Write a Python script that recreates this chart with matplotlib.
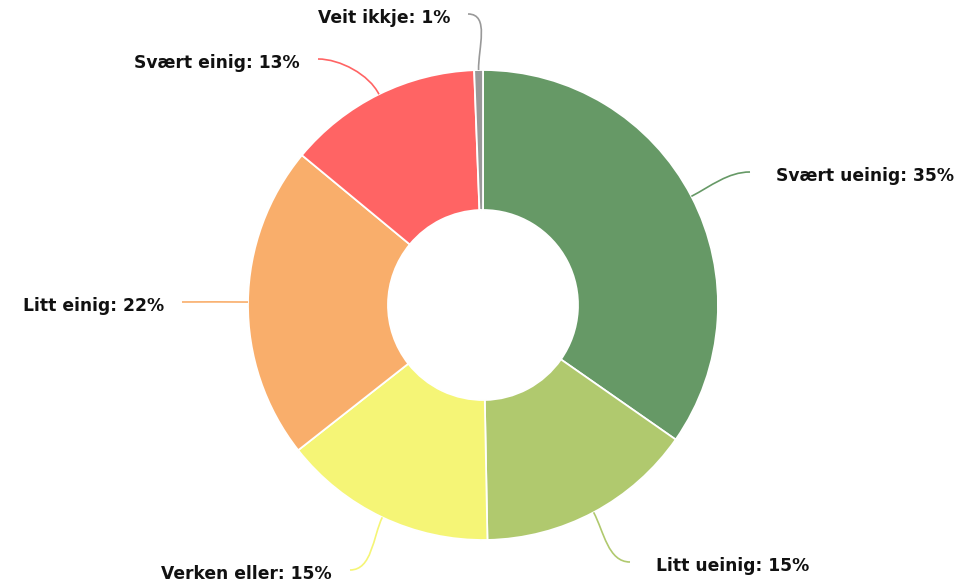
import matplotlib
matplotlib.use("Agg")
import matplotlib.pyplot as plt
import numpy as np
from matplotlib.path import Path
from matplotlib.patches import PathPatch

categories = ["Svært ueinig", "Litt ueinig", "Verken eller", "Litt einig", "Svært einig", "Veit ikkje"]
values = [34.7, 15.0, 14.7, 21.6, 13.4, 0.6]
colors = ["#669966", "#b0c96e", "#f5f576", "#f9ae6b", "#ff6464", "#999999"]
# label anchor offsets (pixels from centre, y up)
anchors = [(267, 133), (147, -257), (-133, -265), (-301, 3), (-165, 246), (-15, 291)]

W, H = 973, 586
fig = plt.figure(figsize=(W / 100, H / 100), dpi=100)
ax = fig.add_axes([0, 0, 1, 1])

cx, cy, R, r_in = 483, H - 305, 235, 95
wedges, _ = ax.pie(values, colors=colors, startangle=90, counterclock=False,
                   center=(cx, cy), radius=R, frame=True,
                   wedgeprops=dict(width=R - r_in, edgecolor="white", linewidth=1.3))
ax.set_xlim(0, W)
ax.set_ylim(0, H)
ax.set_aspect("equal")
ax.axis("off")

total = sum(values)
start = 0.0
for cat, v, col, (ax_, ay_) in zip(categories, values, colors, anchors):
    mid = np.deg2rad((start + v / 2) / total * 360)
    start += v
    sx, sy = cx + R * np.sin(mid), cy + R * np.cos(mid)
    ex, ey = cx + ax_, cy + ay_
    side = 1 if ex > cx else -1
    p1 = (cx + (R + 22) * np.sin(mid), cy + (R + 22) * np.cos(mid))
    p2 = (ex - side * 22, ey)
    path = Path([(sx, sy), p1, p2, (ex, ey)],
                [Path.MOVETO, Path.CURVE4, Path.CURVE4, Path.CURVE4])
    ax.add_patch(PathPatch(path, facecolor="none", edgecolor=col, lw=1.2))
    pct = int(round(v / total * 100))
    gap = 26 if side > 0 else 18
    ax.text(ex + side * gap, ey - 4, f"{cat}: {pct}%", ha="left" if side > 0 else "right",
            va="center", fontsize=12.3, fontweight="bold", color="#111111", family="DejaVu Sans")

fig.savefig("out.png", dpi=100)
